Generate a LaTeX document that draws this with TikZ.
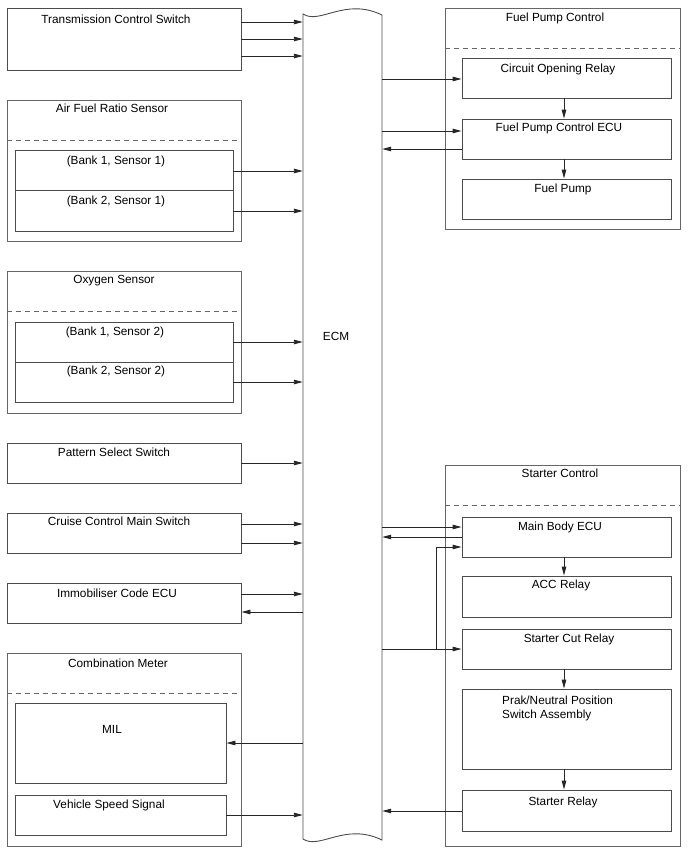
\documentclass[tikz,border=0pt]{standalone}
\usepackage{fontspec}
\setmainfont{Liberation Sans}
\usetikzlibrary{arrows.meta,fit}

\begin{document}
\begin{tikzpicture}[x=1pt,y=-1pt,>={Triangle[length=9pt,width=4.5pt]},
  box/.style={draw=black!70,line width=0.9pt,inner sep=0pt},
  group/.style={draw=black!60,line width=0.9pt,inner sep=0pt},
  lbl/.style={font=\fontsize{11.8}{14}\selectfont,inner sep=0pt,anchor=base},
  sig/.style={->,draw=black!85,line width=0.9pt},
  sep/.style={draw=black!60,dash pattern=on 5pt off 4pt,line width=0.9pt}]
\useasboundingbox (0,0) rectangle (688,852);

% ECM
\node[inner sep=0pt,fit={(303,14) (382,840)}] (ecm) {};
\draw[box] (303,14) .. controls (320,25) and (345,-3) .. (382,15) -- (382,840)
  .. controls (345,822) and (320,850) .. (303,839) -- cycle;
\node[lbl] (ecm-t) at (336,340) {ECM};

% left side
\node[box,fit={(7,8) (241,70)}] (tcs) {};
\node[lbl] (tcs-t) at (116,23) {Transmission Control Switch};

\node[group,fit={(7,100) (241,241)}] (afr) {};
\node[lbl] (afr-t) at (112,112) {Air Fuel Ratio Sensor};
\draw[sep] (afr.west |- 0,140) -- (afr.east |- 0,140);
\node[box,fit={(15,150) (233,190)}] (afr1) {};
\node[box,fit={(15,190) (233,231)}] (afr2) {};
\node[lbl] (afr1-t) at (116,164) {(Bank 1, Sensor 1)};
\node[lbl] (afr2-t) at (116,204) {(Bank 2, Sensor 1)};

\node[group,fit={(7,271) (241,413)}] (oxs) {};
\node[lbl] (oxs-t) at (114,283) {Oxygen Sensor};
\draw[sep] (oxs.west |- 0,311) -- (oxs.east |- 0,311);
\node[box,fit={(15,322) (233,362)}] (oxs1) {};
\node[box,fit={(15,362) (233,402)}] (oxs2) {};
\node[lbl] (oxs1-t) at (115,335) {(Bank 1, Sensor 2)};
\node[lbl] (oxs2-t) at (116,374) {(Bank 2, Sensor 2)};

\node[box,fit={(7,443) (241,483)}] (pss) {};
\node[lbl] (pss-t) at (114,456) {Pattern Select Switch};

\node[box,fit={(7,513) (241,553)}] (ccs) {};
\node[lbl] (ccs-t) at (119,525) {Cruise Control Main Switch};

\node[box,fit={(7,583) (241,623)}] (ice) {};
\node[lbl] (ice-t) at (117,597) {Immobiliser Code ECU};

\node[group,fit={(7,653) (241,846)}] (cmb) {};
\node[lbl] (cmb-t) at (118,667) {Combination Meter};
\draw[sep] (cmb.west |- 0,693) -- (cmb.east |- 0,693);
\node[box,fit={(15,703) (226,783)}] (mil) {};
\node[lbl] (mil-t) at (112,733) {MIL};
\node[box,fit={(15,795) (226,835)}] (vss) {};
\node[lbl] (vss-t) at (109,808) {Vehicle Speed Signal};

% right side
\node[group,fit={(445,8) (680,229)}] (fpc) {};
\node[lbl] (fpc-t) at (555,21) {Fuel Pump Control};
\draw[sep] (fpc.west |- 0,48) -- (fpc.east |- 0,48);
\node[box,fit={(462,58) (671,98)}] (cor) {};
\node[lbl] (cor-t) at (558,72) {Circuit Opening Relay};
\node[box,fit={(462,119) (671,159)}] (fpe) {};
\node[lbl] (fpe-t) at (559,131) {Fuel Pump Control ECU};
\node[box,fit={(462,179) (671,219)}] (fp) {};
\node[lbl] (fp-t) at (563,192) {Fuel Pump};

\node[group,fit={(445,465) (680,846)}] (stc) {};
\node[lbl] (stc-t) at (560,477) {Starter Control};
\draw[sep] (stc.west |- 0,505) -- (stc.east |- 0,505);
\node[box,fit={(462,517) (671,557)}] (mbe) {};
\node[lbl] (mbe-t) at (560,530) {Main Body ECU};
\node[box,fit={(462,576) (671,617)}] (acc) {};
\node[lbl] (acc-t) at (561,588) {ACC Relay};
\node[box,fit={(462,629) (671,669)}] (scr) {};
\node[lbl] (scr-t) at (569,642) {Starter Cut Relay};
\node[box,fit={(462,689) (671,769)}] (pnp) {};
\node[lbl,anchor=base west,align=left] (pnp-t) at (502,718) {Prak/Neutral Position\\Switch Assembly};
\node[box,fit={(462,790) (671,831)}] (srl) {};
\node[lbl] (srl-t) at (563,805) {Starter Relay};

% signals into / out of the ECM
\foreach \n/\y in {tcs/22,tcs/39,tcs/56,afr1/171,afr2/211,oxs1/342,oxs2/382,
                   pss/463,ccs/524,ccs/543,ice/594,vss/815}
  \draw[sig] (\n.east |- 0,\y) -- (ecm.west |- 0,\y);
\draw[sig] (ecm.west |- 0,612) -- (ice.east |- 0,612);
\draw[sig] (ecm.west |- 0,743) -- (mil.east |- 0,743);

\draw[sig] (ecm.east |- 0,79) -- (cor.west |- 0,79);
\draw[sig] (ecm.east |- 0,131) -- (fpe.west |- 0,131);
\draw[sig] (fpe.west |- 0,149) -- (ecm.east |- 0,149);
\draw[sig] (ecm.east |- 0,527) -- (mbe.west |- 0,527);
\draw[sig] (mbe.west |- 0,537) -- (ecm.east |- 0,537);
\draw[sig] (ecm.east |- 0,649) -- (scr.west |- 0,649);
\draw[sig] (436,649) -- (436,547) -- (mbe.west |- 0,547);
\draw[sig] (srl.west |- 0,811) -- (ecm.east |- 0,811);

% chains inside the groups
\draw[sig] (cor.south -| 564,0) -- (fpe.north -| 564,0);
\draw[sig] (fpe.south -| 564,0) -- (fp.north -| 564,0);
\draw[sig] (mbe.south -| 564,0) -- (acc.north -| 564,0);
\draw[sig] (scr.south -| 564,0) -- (pnp.north -| 564,0);
\draw[sig] (pnp.south -| 564,0) -- (srl.north -| 564,0);
\end{tikzpicture}
\end{document}
